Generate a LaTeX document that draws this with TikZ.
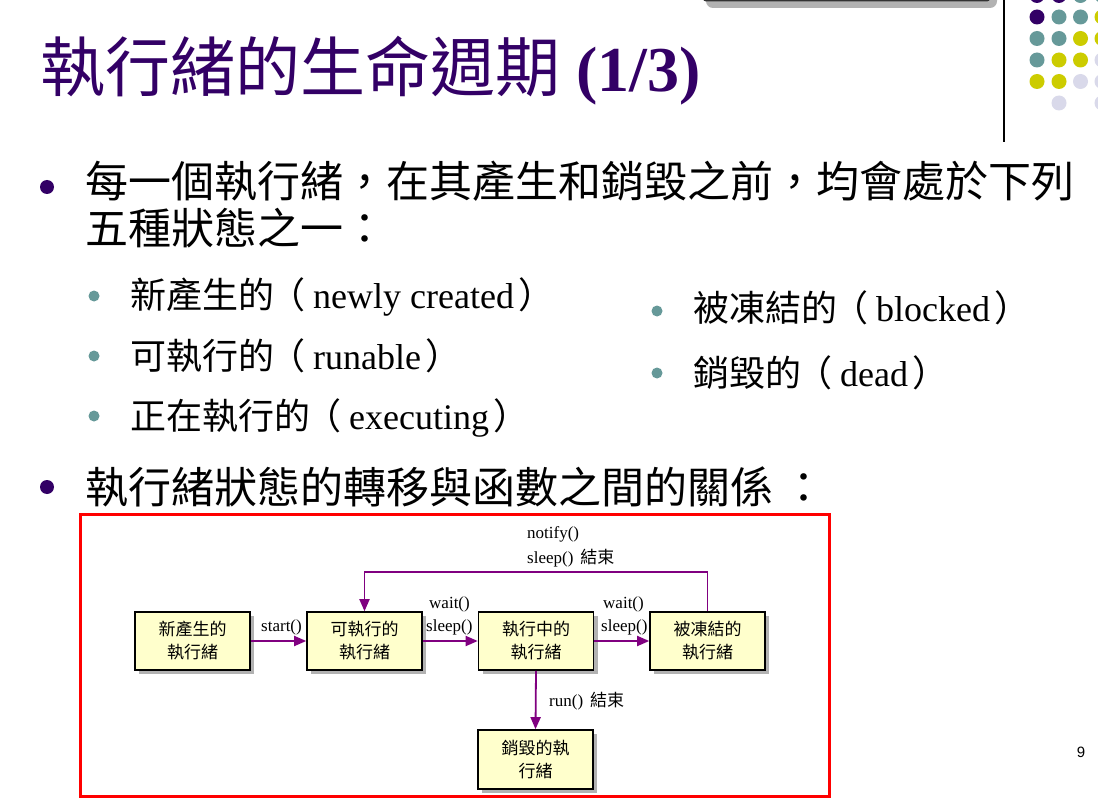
\documentclass[tikz,border=0pt]{standalone}
\usepackage{fontspec}
\setmainfont{Liberation Serif}
\newfontfamily\cjk{Noto Sans CJK TC}
\newfontfamily\pagefont{Liberation Sans}
\usetikzlibrary{arrows.meta,shadows}

\definecolor{titlepurple}{HTML}{330066}
\definecolor{dotteal}{HTML}{669999}
\definecolor{dotyellow}{HTML}{CCCC00}
\definecolor{dotlilac}{HTML}{D9D9EA}
\definecolor{arrowpurple}{HTML}{800080}
\definecolor{boxfill}{HTML}{FFFFCC}

% a state name with its English gloss in full-width brackets
\newcommand{\glossed}[2]{{\cjk #1\hspace{-5pt}（}\hspace{8pt}#2\hspace{4pt}{\cjk ）}}

\begin{document}
\begin{tikzpicture}[x=1pt,y=-1pt,
  state/.style={draw=black, line width=1.6pt, fill=boxfill,
    minimum width=115pt, minimum height=58pt, inner sep=0pt, align=center,
    font=\cjk\fontsize{17}{23}\selectfont,
    drop shadow={shadow xshift=4pt, shadow yshift=-4pt, fill=black!30, opacity=1}},
  flow/.style={draw=arrowpurple, line width=1.8pt, -{Triangle[length=12pt,width=10pt]}},
  lbl/.style={anchor=west, inner sep=0pt, font=\fontsize{17}{19}\selectfont},
  bigtext/.style={anchor=base west, inner sep=0pt, font=\fontsize{43}{46}\selectfont},
  subtext/.style={anchor=base west, inner sep=0pt, font=\fontsize{36}{40}\selectfont},
  mainbullet/.style={fill=titlepurple, radius=7},
  subbullet/.style={fill=dotteal, radius=5.5},
]
\useasboundingbox (0,0) rectangle (1098,805);
\fill[white] (0,0) rectangle (1098,805);

% top bar and side rule
\fill[black!30, rounded corners=7pt] (706,-20) rectangle (997,8);
\fill[black!80, rounded corners=3pt] (703,-20) rectangle (990,1.5);
\draw[line width=1.2pt] (1004,0) -- (1004,142);

% dot grid in the corner
\foreach \r/\y in {0/-4.5,1/17,2/38.5,3/60,4/81.5,5/103}{
  \foreach \c/\x in {0/1037,1/1059,2/1080.5,3/1102}{
    \pgfmathtruncatemacro{\s}{\r+\c}
    \ifnum\s<2 \def\dc{titlepurple}\else
    \ifnum\s<4 \def\dc{dotteal}\else
    \ifnum\s<6 \def\dc{dotyellow}\else \def\dc{dotlilac}\fi\fi\fi
    \pgfmathtruncatemacro{\skipdot}{(\r==5 && (\c==0 || \c==2)) ? 1 : 0}
    \ifnum\skipdot=0 \fill[\dc] (\x,\y) circle[radius=7.5]; \fi
  }
}

% title
\node (title) [anchor=base west, inner sep=0pt, text=titlepurple] at (40,92)
  {{\cjk\fontsize{65}{70}\selectfont 執行緒的生命週期}{\fontsize{64}{70}\selectfont\bfseries\ (1/3)}};

% first bullet
\fill[mainbullet] (47,187) circle;
\node (b1a) [bigtext] at (85,198) {\cjk 每一個執行緒，在其產生和銷毀之前，均會處於下列};
\node (b1b) [bigtext] at (85,244) {\cjk 五種狀態之一：};

% the five states
\fill[subbullet] (94,296) circle;
\fill[subbullet] (94,356) circle;
\fill[subbullet] (94,416) circle;
\fill[subbullet] (657,311) circle;
\fill[subbullet] (657,373) circle;
\node (i1) [subtext] at (130,308) {\glossed{新產生的}{newly created}};
\node (i2) [subtext] at (130,369) {\glossed{可執行的}{runable}};
\node (i3) [subtext] at (130,429) {\glossed{正在執行的}{executing}};
\node (i4) [subtext] at (693,321) {\glossed{被凍結的}{blocked}};
\node (i5) [subtext] at (693,386) {\glossed{銷毀的}{dead}};

% second bullet
\fill[mainbullet] (47,487) circle;
\node (b2) [bigtext] at (85,503) {\cjk 執行緒狀態的轉移與函數之間的關係 ：};

% state diagram
\node (frame) [draw=red, line width=2.5pt, minimum width=749pt, minimum height=282pt, inner sep=0pt] at (455,655.5) {};

\node (s1) [state] at (192.5,641) {新產生的\\執行緒};
\node (s2) [state] at (364.5,641) {可執行的\\執行緒};
\node (s3) [state] at (536,641) {執行中的\\執行緒};
\node (s4) [state] at (707.5,641) {被凍結的\\執行緒};
\node (s5) [state, minimum height=59pt] at (535.5,759.5) {銷毀的執\\行緒};

\draw[flow] (s1.east) -- (s2.west);
\draw[flow] (s2.east) -- (s3.west);
\draw[flow] (s3.east) -- (s4.west);
\draw[flow] (s3.south) -- (s5.north);
\draw[flow] (s4.north) -- ++(0,-39) -| (s2.north);

\node (l1) [lbl] at (261,627) {start()};
\node (l2) [lbl] at (429,604) {wait()};
\node (l3) [lbl] at (426,627) {sleep()};
\node (l4) [lbl] at (603,604) {wait()};
\node (l5) [lbl] at (601,627) {sleep()};
\node (l6) [lbl] at (527,534) {notify()};
\node (l7) [lbl] at (527,558) {sleep()\hspace{7pt}{\cjk 結束}};
\node (l8) [lbl] at (549,701) {run()\hspace{7pt}{\cjk 結束}};

% page number
\node (pg) [inner sep=0pt, font=\pagefont\fontsize{15}{17}\selectfont] at (1081,752) {9};
\end{tikzpicture}
\end{document}
